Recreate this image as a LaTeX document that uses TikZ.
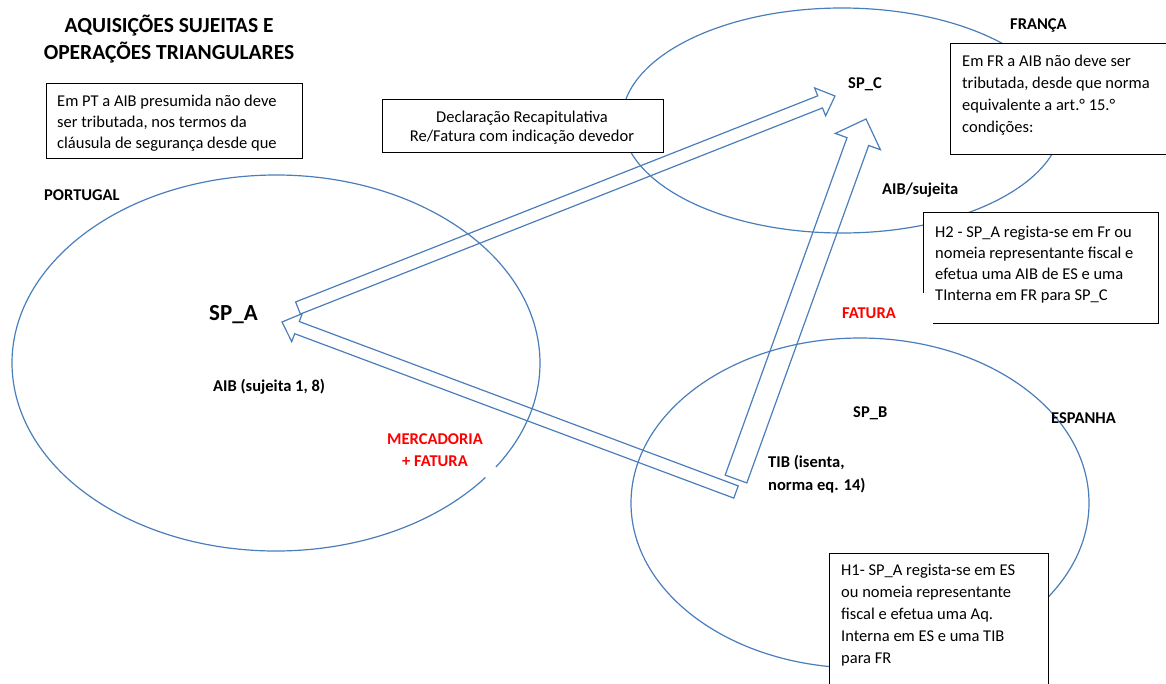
\documentclass[tikz,border=0pt]{standalone}
\usepackage{fontspec}
\setmainfont{Carlito}
\usetikzlibrary{calc}
\definecolor{regionblue}{HTML}{4A7EBB}
% fixed height for the first line of a text block, so its top sits 1em above the baseline
\newcommand\firstline{\rule{0pt}{1em}}
% block arrow: #1 tail, #2 tip, #3 half shaft width, #4 half head width, #5 head length
\newcommand\blockarrowpath[5]{%
  \coordinate (#1-base) at ($(#2)!#5!(#1)$);
  \draw[blockarrow]
    ($(#1)!#3!90:(#2)$) -- ($(#1-base)!#3!90:(#2)$) -- ($(#1-base)!#4!90:(#2)$)
    -- (#2) -- ($(#1-base)!#4!-90:(#2)$) -- ($(#1-base)!#3!-90:(#2)$)
    -- ($(#1)!#3!-90:(#2)$) -- cycle;}
\begin{document}
\begin{tikzpicture}[x=1pt,y=-1pt,
  region/.style={draw=regionblue,line width=1.2pt},
  blockarrow/.style={draw=regionblue,line width=1.2pt,line join=miter},
  notebox/.style={draw=black,line width=1pt,fill=white},
  notetext/.style={inner sep=0pt,anchor=north west,align=left,font=\fontsize{16.5}{21}\selectfont},
  tag/.style={inner sep=0pt,anchor=base west,font=\fontsize{16.5}{20}\selectfont\bfseries},
  redtag/.style={tag,text=red}]
\useasboundingbox (0,0) rectangle (1166,683);
\clip (0,0) rectangle (1166,683);

% country regions
\draw[region] (276,363) ++(37.5:264 and 188)
  arc[start angle=37.5,end angle=393.6,x radius=264,y radius=188];
\draw[region] (842,120.5) ellipse [x radius=220,y radius=112.5];
\draw[region] (860,503) ellipse [x radius=229,y radius=165];

% note frames
\draw[notebox] (46,83) rectangle (302,158);
\draw[notebox] (382,99) rectangle (663,152);
\draw[notebox] (950,43) rectangle (1180,154);
\fill[white] (923,212) rectangle (1158,323);
\draw[line width=1pt] (933,323) -- (1158,323) -- (1158,212) -- (923,212) -- (923,293);
\draw[notebox] (829,553) rectangle (1048,700);

% title
\node[inner sep=0pt,anchor=north,align=center,font=\fontsize{21.5}{27}\selectfont\bfseries]
  (title) at (169,10.5) {\firstline AQUISIÇÕES SUJEITAS E\\OPERAÇÕES TRIANGULARES};

% note texts
\node[notetext] (ptnote) at (57,89.5)
  {\firstline Em PT a AIB presumida não deve\\ser tributada, nos termos da\\cláusula de segurança desde que};
\node[notetext,anchor=north,align=center,font=\fontsize{16.5}{19}\selectfont] (decl) at (522,105.5)
  {\firstline Declaração Recapitulativa\\Re/Fatura com indicação devedor};
\node[notetext,font=\fontsize{16.5}{21.8}\selectfont] (frnote) at (962,50)
  {\firstline Em FR a AIB não deve ser\\tributada, desde que norma\\equivalente a art.° 15.°\\condições:};
\node[notetext] (htwo) at (935,220.5)
  {\firstline H2 - SP\_A regista-se em Fr ou\\nomeia representante fiscal e\\efetua uma AIB de ES e uma\\TInterna em FR para SP\_C};
\node[notetext,font=\fontsize{16.5}{22}\selectfont] (hone) at (841,558.5)
  {\firstline H1- SP\_A regista-se em ES\\ou nomeia representante\\fiscal e efetua uma Aq.\\Interna em ES e uma TIB\\para FR};

% country and party labels
\node[tag] (pt) at (44,200) {PORTUGAL};
\node[tag] (fr) at (1010,29) {FRANÇA};
\node[tag] (es) at (1051,423) {ESPANHA};
\node[tag,font=\fontsize{23}{26}\selectfont\bfseries] (spa) at (209,320) {SP\_A};
\node[tag] (spc) at (848,88) {SP\_C};
\node[tag] (spb) at (853,417) {SP\_B};
\node[tag] (aibpt) at (213,391) {AIB (sujeita 1, 8)};
\node[tag] (aibfr) at (882,194) {AIB/sujeita};
\node[tag,anchor=north west,align=left,font=\fontsize{16.5}{23}\selectfont\bfseries] (tib) at (768,450.5)
  {\firstline TIB (isenta,\\norma eq. 14)};
\node[redtag] (fatura) at (842,318) {FATURA};
\node[redtag,anchor=north,align=center,font=\fontsize{16.5}{22}\selectfont\bfseries] (merc) at (435,427.5)
  {\firstline MERCADORIA\\+ FATURA};

% flows between the parties
\coordinate (declTail) at (298,308);
\coordinate (declTip) at (835,96);
\coordinate (goodsTail) at (736,492);
\coordinate (goodsTip) at (282,322);
\coordinate (tibTail) at (736,479);
\coordinate (tibTip) at (866,119);
\blockarrowpath{declTail}{declTip}{6.5pt}{15pt}{16pt}
\blockarrowpath{goodsTail}{goodsTip}{6.5pt}{15pt}{16pt}
\blockarrowpath{tibTail}{tibTip}{11.5pt}{24pt}{24pt}
\end{tikzpicture}
\end{document}
